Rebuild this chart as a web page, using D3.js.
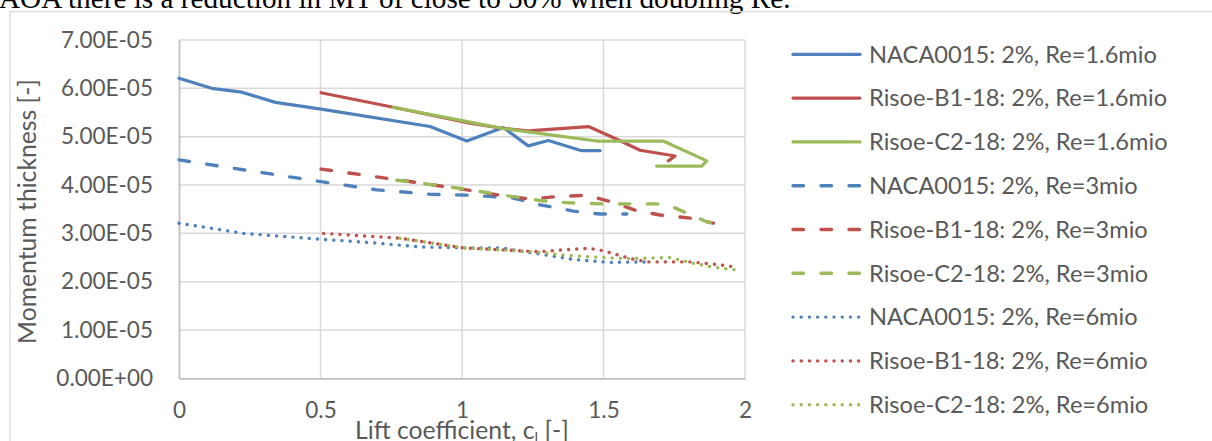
<!DOCTYPE html>
<html>
<head>
<meta charset="utf-8">
<script src="https://cdn.jsdelivr.net/npm/d3@7"></script>
<style>
  html, body { margin: 0; padding: 0; background: #fff; overflow: hidden; }
  svg { display: block; }
</style>
</head>
<body>
<svg id="chart" width="1212" height="441"></svg>
<script>
// ---------------- DATA ----------------
const xTickValues = [0, 0.5, 1, 1.5, 2];
const xTickLabels = ["0", "0.5", "1", "1.5", "2"];
const yTickValues = [0, 1e-5, 2e-5, 3e-5, 4e-5, 5e-5, 6e-5, 7e-5];
const yTickLabels = ["0.00E+00", "1.00E-05", "2.00E-05", "3.00E-05", "4.00E-05", "5.00E-05", "6.00E-05", "7.00E-05"];

const seriesNames = [
  "NACA0015: 2%, Re=1.6mio", "Risoe-B1-18: 2%, Re=1.6mio", "Risoe-C2-18: 2%, Re=1.6mio",
  "NACA0015: 2%, Re=3mio", "Risoe-B1-18: 2%, Re=3mio", "Risoe-C2-18: 2%, Re=3mio",
  "NACA0015: 2%, Re=6mio", "Risoe-B1-18: 2%, Re=6mio", "Risoe-C2-18: 2%, Re=6mio"
];

// Re = 1.6 mio
const naca16X = [0, 0.115, 0.222, 0.341, 0.502, 0.887, 1.017, 1.146, 1.234, 1.305, 1.423, 1.488];
const naca16Y = [6.21e-5, 6.00e-5, 5.92e-5, 5.71e-5, 5.57e-5, 5.21e-5, 4.91e-5, 5.19e-5, 4.81e-5, 4.92e-5, 4.71e-5, 4.71e-5];
const b116X = [0.502, 0.757, 1.028, 1.146, 1.234, 1.447, 1.553, 1.629, 1.753, 1.729];
const b116Y = [5.91e-5, 5.61e-5, 5.28e-5, 5.17e-5, 5.12e-5, 5.21e-5, 4.93e-5, 4.72e-5, 4.60e-5, 4.50e-5];
const c216X = [0.757, 1.028, 1.146, 1.234, 1.476, 1.711, 1.865, 1.847, 1.688];
const c216Y = [5.61e-5, 5.30e-5, 5.17e-5, 5.10e-5, 4.91e-5, 4.91e-5, 4.50e-5, 4.39e-5, 4.39e-5];

// Re = 3 mio
const naca3X = [0, 0.502, 0.699, 0.887, 1.028, 1.181, 1.276, 1.394, 1.488, 1.582];
const naca3Y = [4.52e-5, 4.07e-5, 3.90e-5, 3.81e-5, 3.79e-5, 3.73e-5, 3.59e-5, 3.46e-5, 3.40e-5, 3.40e-5];
const b13X = [0.502, 0.757, 1.007, 1.134, 1.24, 1.334, 1.44, 1.523, 1.617, 1.70, 1.817, 1.888];
const b13Y = [4.33e-5, 4.12e-5, 3.91e-5, 3.79e-5, 3.71e-5, 3.76e-5, 3.79e-5, 3.66e-5, 3.47e-5, 3.38e-5, 3.31e-5, 3.21e-5];
const c23X = [0.77, 1.007, 1.146, 1.276, 1.382, 1.5, 1.7, 1.747, 1.865, 1.896];
const c23Y = [4.10e-5, 3.92e-5, 3.79e-5, 3.68e-5, 3.63e-5, 3.61e-5, 3.61e-5, 3.54e-5, 3.24e-5, 3.21e-5];

// Re = 6 mio
const naca6X = [0, 0.227, 0.498, 0.675, 0.852, 1.005, 1.134, 1.276, 1.394, 1.523, 1.658];
const naca6Y = [3.21e-5, 3.00e-5, 2.88e-5, 2.81e-5, 2.72e-5, 2.70e-5, 2.70e-5, 2.57e-5, 2.46e-5, 2.40e-5, 2.41e-5];
const b16X = [0.511, 0.781, 1.005, 1.276, 1.358, 1.447, 1.5, 1.594, 1.653, 1.806, 1.912, 1.97];
const b16Y = [3.00e-5, 2.90e-5, 2.70e-5, 2.62e-5, 2.66e-5, 2.69e-5, 2.64e-5, 2.48e-5, 2.41e-5, 2.41e-5, 2.35e-5, 2.30e-5];
const c26X = [0.781, 1.005, 1.134, 1.276, 1.358, 1.5, 1.582, 1.735, 1.817, 1.888, 1.975];
const c26Y = [2.90e-5, 2.70e-5, 2.66e-5, 2.61e-5, 2.55e-5, 2.50e-5, 2.48e-5, 2.50e-5, 2.38e-5, 2.30e-5, 2.24e-5];

// ---------------- STYLE ----------------
const BLUE = "#4F81BD", RED = "#C0504D", GREEN = "#9BBB59";
const TEXT = "#595959";
const FONT = "Lato, 'Open Sans', sans-serif";
const seriesData = [
  { x: naca16X, y: naca16Y, color: BLUE, style: "solid" },
  { x: b116X, y: b116Y, color: RED, style: "solid" },
  { x: c216X, y: c216Y, color: GREEN, style: "solid" },
  { x: naca3X, y: naca3Y, color: BLUE, style: "dash" },
  { x: b13X, y: b13Y, color: RED, style: "dash" },
  { x: c23X, y: c23Y, color: GREEN, style: "dash" },
  { x: naca6X, y: naca6Y, color: BLUE, style: "dot" },
  { x: b16X, y: b16Y, color: RED, style: "dot" },
  { x: c26X, y: c26Y, color: GREEN, style: "dot" }
];

function applyStyle(sel, s) {
  sel.attr("fill", "none").attr("stroke", s.color).attr("stroke-linejoin", "round");
  if (s.style === "solid") {
    sel.attr("stroke-width", 3.2).attr("stroke-linecap", "round");
  } else if (s.style === "dash") {
    sel.attr("stroke-width", 3.4).attr("stroke-linecap", "round").attr("stroke-dasharray", "10.5,17.5");
  } else {
    sel.attr("stroke-width", 3.4).attr("stroke-linecap", "round").attr("stroke-dasharray", "0.1,8.1");
  }
}

// ---------------- DRAW ----------------
const svg = d3.select("#chart");

function fitSize(text, targetWidth, family, base) {
  const t = svg.append("text").attr("font-family", family).attr("font-size", base).text(text);
  const w = t.node().getComputedTextLength();
  t.remove();
  return base * targetWidth / w;
}

// Top caption (from surrounding document, cut off)
const SERIF = "'Liberation Serif', 'Times New Roman', serif";
const capText = "AOA there is a reduction in MT of close to 50% when doubling Re.";
const capSize = fitSize(capText, 792, SERIF, 24);
svg.append("text")
  .attr("x", -1).attr("y", 7.5)
  .attr("font-family", SERIF)
  .attr("font-size", capSize).attr("fill", "#000")
  .text(capText);

// chart frame
svg.append("rect")
  .attr("x", 10).attr("y", 11.7).attr("width", 1210).attr("height", 460)
  .attr("fill", "none").attr("stroke", "#D9D9D9").attr("stroke-width", 1.3);

const x = d3.scaleLinear().domain([0, 2]).range([179, 745]);
const y = d3.scaleLinear().domain([0, 7e-5]).range([378.4, 40]);

const tickSize = fitSize("7.00E-05", 92, FONT, 20);
const legSize = fitSize("NACA0015: 2%, Re=1.6mio", 288, FONT, 20);
const yTitleSize = fitSize("Momentum thickness [-]", 265, FONT, 20);

// gridlines
svg.append("g").selectAll("line").data(yTickValues.slice(1)).join("line")
  .attr("x1", x(0)).attr("x2", x(2))
  .attr("y1", d => y(d)).attr("y2", d => y(d))
  .attr("stroke", "#D9D9D9").attr("stroke-width", 1.5);
svg.append("g").selectAll("line").data(xTickValues.slice(1)).join("line")
  .attr("x1", d => x(d)).attr("x2", d => x(d))
  .attr("y1", y(0)).attr("y2", y(7e-5))
  .attr("stroke", "#D9D9D9").attr("stroke-width", 1.5);

// axes
const yAxis = d3.axisLeft(y).tickValues(yTickValues)
  .tickFormat((d, i) => yTickLabels[i]).tickSize(0).tickPadding(26);
const gy = svg.append("g").attr("transform", `translate(${x(0)},0)`).call(yAxis);
gy.select(".domain").attr("stroke", "#BFBFBF").attr("stroke-width", 1.8);
gy.selectAll("text").attr("font-family", FONT).attr("font-size", tickSize).attr("fill", TEXT);

const xAxis = d3.axisBottom(x).tickValues(xTickValues)
  .tickFormat((d, i) => xTickLabels[i]).tickSize(0).tickPadding(24);
const gx = svg.append("g").attr("transform", `translate(0,${y(0)})`).call(xAxis);
gx.select(".domain").attr("stroke", "#BFBFBF").attr("stroke-width", 1.8);
gx.selectAll("text").attr("font-family", FONT).attr("font-size", tickSize).attr("fill", TEXT);

// axis titles
svg.append("text")
  .attr("transform", `translate(36,211.5) rotate(-90)`)
  .attr("text-anchor", "middle")
  .attr("font-family", FONT).attr("font-size", yTitleSize).attr("fill", TEXT)
  .text("Momentum thickness [-]");

const xt = svg.append("text")
  .attr("x", (x(0) + x(2)) / 2).attr("y", 439)
  .attr("text-anchor", "middle")
  .attr("font-family", FONT).attr("font-size", yTitleSize).attr("fill", TEXT);
xt.append("tspan").text("Lift coefficient, c");
xt.append("tspan").attr("font-size", yTitleSize * 0.62).attr("dy", 4).text("l");
xt.append("tspan").attr("dy", -4).text(" [-]");

// lines
const line = d3.line().x(d => x(d[0])).y(d => y(d[1]));
seriesData.forEach(s => {
  const pts = s.x.map((v, i) => [v, s.y[i]]);
  svg.append("path").datum(pts).attr("d", line).call(applyStyle, s);
});

// legend
const legY0 = 54.3, legStep = 43.8;
seriesData.forEach((s, i) => {
  const ly = legY0 + i * legStep;
  svg.append("line")
    .attr("x1", 793).attr("x2", 860).attr("y1", ly).attr("y2", ly)
    .call(applyStyle, s);
  svg.append("text")
    .attr("x", 869).attr("y", ly).attr("dy", "0.35em")
    .attr("font-family", FONT).attr("font-size", legSize).attr("fill", TEXT)
    .text(seriesNames[i]);
});
</script>
</body>
</html>
